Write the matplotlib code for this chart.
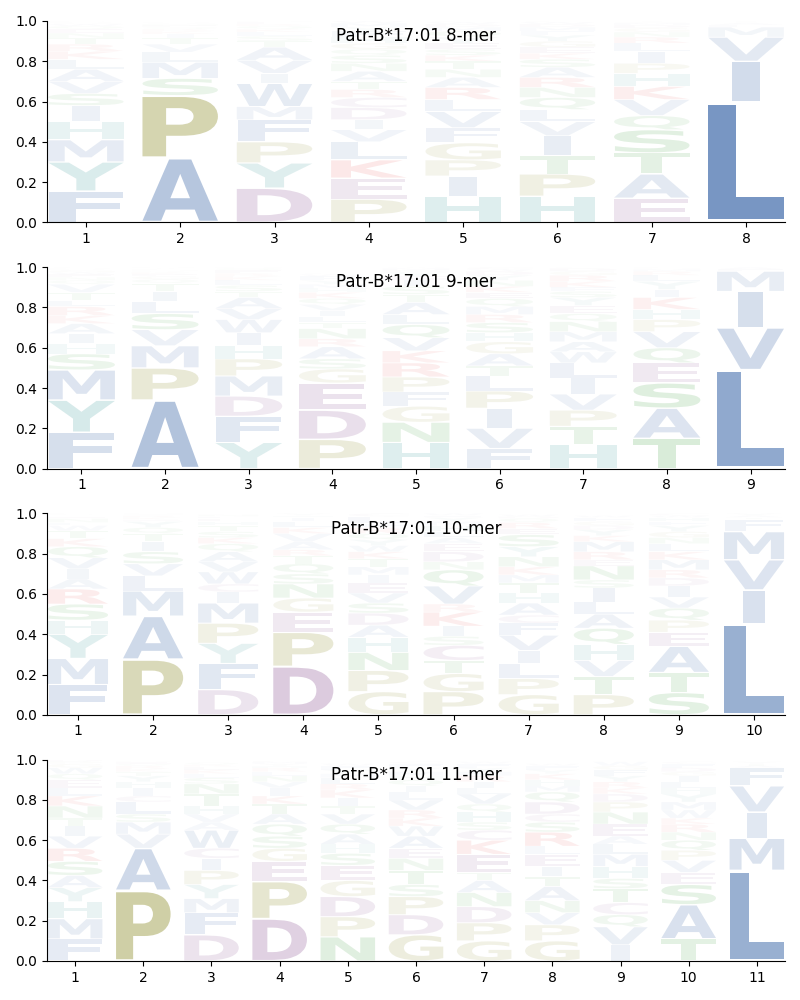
import matplotlib
matplotlib.use('Agg')
import matplotlib.pyplot as plt
from matplotlib.textpath import TextPath
from matplotlib.patches import PathPatch
from matplotlib.font_manager import FontProperties
from matplotlib.transforms import Affine2D

allele = 'Patr-B*17:01'

# letters per position, listed bottom -> top, with their frequencies
mer8_letters = ["FYMHISVALKRTNEQWGPDC", "APSMLVTIKRQENGDFYHWC", "DYPFMWIVATSLKQRENG",
                "PEKLVIDCRTANSQGHFYMW", "HIPGFVLRANTKSEYQMDWC", "HPTIVLQNRASKEGYFMDWC",
                "EATSQVKHPILRNGDMFYWC", "LIVMFATY"]
mer8_heights = [
    [.155, .145, .11, .09, .08, .06, .06, .06, .05, .04, .035, .03, .025, .02, .015, .01, .005, .005, .003, .002],
    [.32, .31, .085, .08, .05, .04, .03, .02, .015, .01, .01, .008, .007, .005, .004, .003, .003, .002, .001, .001],
    [.17, .125, .105, .11, .065, .115, .05, .065, .065, .03, .025, .02, .015, .015, .01, .01, .005, .005],
    [.115, .105, .09, .09, .06, .05, .06, .05, .04, .04, .05, .04, .04, .03, .03, .03, .03, .02, .02, .01],
    [.13, .10, .08, .085, .075, .08, .06, .06, .05, .04, .04, .03, .03, .03, .03, .03, .02, .015, .01, .005],
    [.13, .11, .09, .10, .07, .06, .06, .05, .05, .05, .04, .03, .03, .03, .03, .02, .02, .015, .01, .005],
    [.12, .12, .105, .115, .07, .08, .065, .065, .05, .06, .04, .03, .025, .02, .015, .01, .005, .005, .003, .002],
    [.60, .20, .12, .05, .01, .01, .005, .005],
]

mer9_letters = ["FYMSHIAKRLTVQNEWGPDC", "APMVSLITQGEKRNFYD", "YFDMPHIWVATSLKREQNG",
                "PDEGSARNTLIVQKHMYFWC", "HNGFPRKVQLATSIEYDMW", "FVIPLTAGHSRMQEKNYDWC",
                "HTPVILWAMNQEYSFKRGDC", "TASEQVPHKIYLRMNFGD", "LVIMFA"]
mer9_heights = [
    [.18, .16, .15, .08, .05, .05, .05, .04, .045, .03, .04, .04, .02, .015, .015, .01, .01, .005, .005, .005],
    [.34, .16, .11, .08, .08, .06, .05, .04, .02, .015, .01, .01, .005, .005, .005, .005, .005],
    [.13, .13, .10, .10, .085, .065, .065, .065, .055, .055, .03, .03, .025, .02, .015, .015, .01, .005, .005],
    [.145, .145, .135, .07, .05, .06, .04, .05, .03, .03, .03, .03, .03, .03, .02, .02, .02, .02, .01, .005],
    [.13, .10, .08, .07, .075, .07, .06, .065, .065, .05, .06, .04, .04, .03, .02, .02, .01, .01, .005],
    [.10, .10, .10, .085, .075, .05, .06, .06, .045, .05, .04, .04, .04, .03, .03, .03, .025, .02, .01, .01],
    [.12, .09, .08, .08, .08, .075, .055, .05, .05, .05, .04, .04, .04, .03, .02, .03, .03, .02, .015, .005],
    [.15, .15, .125, .10, .075, .08, .06, .05, .06, .04, .04, .03, .02, .01, .005, .005, .005, .005],
    [.49, .21, .18, .10, .01, .01],
]

mer10_letters = ["FMYHSRAIVQKTWLNEGPD", "PAMLVSITQYEKRFN", "DFYPMICWVAQKSTHELNGR",
                 "DPEGNSQTRAVKLIHY", "GPNHADSVEIMTKWYQRFLC", "PGTCSIKRVQNDEALHMYFW",
                 "GPLIVFCAHTMKNYSERQDW", "PTVHQALISNERMKYDGFWC", "STAEPQVIDRMKLNGYFHWC",
                 "LIVMFTAY"]
mer10_heights = [
    [.15, .13, .12, .07, .08, .075, .05, .05, .055, .055, .04, .04, .025, .015, .02, .01, .005, .005, .005],
    [.275, .215, .125, .075, .06, .06, .05, .04, .03, .03, .01, .01, .01, .005, .005],
    [.125, .13, .10, .10, .10, .055, .04, .06, .05, .05, .04, .03, .03, .03, .02, .015, .01, .01, .005, .005],
    [.24, .17, .10, .07, .07, .05, .05, .04, .03, .04, .04, .03, .03, .02, .01, .01],
    [.115, .105, .09, .075, .06, .06, .05, .05, .05, .04, .04, .04, .035, .03, .03, .03, .03, .02, .035, .015],
    [.115, .09, .065, .075, .045, .05, .07, .04, .09, .08, .04, .05, .04, .03, .03, .03, .02, .02, .01, .01],
    [.10, .08, .075, .065, .075, .06, .04, .06, .05, .05, .04, .04, .05, .05, .06, .03, .03, .02, .01, .01],
    [.10, .09, .08, .08, .08, .07, .06, .07, .04, .07, .03, .04, .05, .03, .03, .02, .02, .02, .01, .005],
    [.11, .10, .13, .07, .06, .06, .055, .055, .04, .04, .05, .04, .04, .03, .03, .03, .02, .02, .01, .01],
    [.45, .17, .15, .14, .06, .01, .01, .01],
]

mer11_letters = ["FMHYASRVITNKLEQWGPD", "PAVMSLCIHYTKRQEN", "DFMYPICWAVHTNSLKERQG",
                 "DPEGSQATKIVNLRHYMF", "NPDGESHAQVTIKRLMYFWC", "GDPSTNEAWKRVLIQHMYFC",
                 "GPDNATEKCSHQVLIRMYFW", "GPVNATIELRSCDQMHKYFW", "IVQCTSHMLAENPDKRYFGW",
                 "TASEVPQNRKWMYHLIGDFC", "LMIVFATY"]
mer11_heights = [
    [.11, .10, .085, .07, .06, .07, .065, .06, .05, .04, .06, .05, .04, .04, .03, .03, .02, .01, .01],
    [.35, .21, .07, .06, .04, .06, .03, .04, .03, .03, .02, .015, .015, .01, .01, .005],
    [.13, .11, .07, .07, .07, .06, .05, .09, .04, .04, .04, .06, .05, .03, .02, .02, .015, .01, .01, .005],
    [.21, .185, .10, .065, .06, .06, .05, .05, .04, .04, .03, .03, .02, .02, .01, .01, .01, .005],
    [.12, .10, .10, .08, .075, .06, .045, .05, .05, .05, .04, .04, .04, .03, .03, .02, .02, .02, .01, .005],
    [.13, .10, .09, .06, .07, .06, .05, .06, .05, .04, .04, .05, .04, .03, .03, .02, .02, .02, .02, .01],
    [.10, .09, .08, .07, .06, .04, .09, .07, .05, .04, .05, .04, .05, .03, .03, .03, .02, .02, .02, .01],
    [.10, .08, .06, .06, .07, .05, .05, .06, .04, .07, .05, .04, .06, .05, .03, .03, .03, .02, .02, .01],
    [.08, .09, .06, .06, .07, .05, .06, .06, .05, .04, .06, .06, .05, .04, .03, .03, .03, .03, .02, .02],
    [.11, .17, .10, .06, .06, .05, .05, .04, .04, .03, .04, .04, .04, .03, .03, .03, .02, .02, .02, .01],
    [.45, .16, .13, .13, .09, .01, .01, .01],
]

# residue colours (alpha follows the frequency)
colors = {}
for aa in 'AVLIMFW':
    colors[aa] = '#1e509b'
for aa in 'PG':
    colors[aa] = '#787800'
for aa in 'DEC':
    colors[aa] = '#6e2878'
for aa in 'KR':
    colors[aa] = '#e00000'
for aa in 'STNQ':
    colors[aa] = '#008000'
for aa in 'HY':
    colors[aa] = '#007f7f'

fp = FontProperties(family='DejaVu Sans', weight='bold')
width = 0.8
# narrow letters (like I) are not stretched wider than an E would be
e_width = TextPath((0, 0), 'E', size=1, prop=fp).get_extents().width


def draw_letter(ax, ch, x, y0, h):
    tp = TextPath((0, 0), ch, size=1, prop=fp)
    bb = tp.get_extents()
    pad = h * 0.025
    sx = min(width / bb.width, width / e_width)
    w = sx * bb.width
    tr = Affine2D().translate(-bb.x0, -bb.y0).scale(sx, (h - 2 * pad) / bb.height)
    tr = tr.translate(x - w / 2, y0 + pad)
    ax.add_patch(PathPatch(tr.transform_path(tp), facecolor=colors[ch], edgecolor='none',
                           alpha=min(h, 1.0)))


panels = [(8, mer8_letters, mer8_heights), (9, mer9_letters, mer9_heights),
          (10, mer10_letters, mer10_heights), (11, mer11_letters, mer11_heights)]

fig, axes = plt.subplots(4, 1, figsize=(8, 10), dpi=100)
plt.subplots_adjust(left=0.059, right=0.981, top=0.979, bottom=0.039, hspace=0.223)

for ax, (n, letters, heights) in zip(axes, panels):
    for i in range(n):
        y = 0.0
        for ch, h in zip(letters[i], heights[i]):
            draw_letter(ax, ch, i + 1, y, h)
            y += h
    ax.set_xlim(1 - 0.41, n + 0.41)
    ax.set_ylim(0, 1)
    ax.set_xticks(range(1, n + 1))
    ax.set_yticks([0, 0.2, 0.4, 0.6, 0.8, 1.0])
    ax.spines['top'].set_visible(False)
    ax.spines['right'].set_visible(False)
    ax.text(0.5, 0.925, allele + ' ' + str(n) + '-mer', transform=ax.transAxes,
            ha='center', va='center', fontsize=12)

plt.savefig('out.png', dpi=100)
